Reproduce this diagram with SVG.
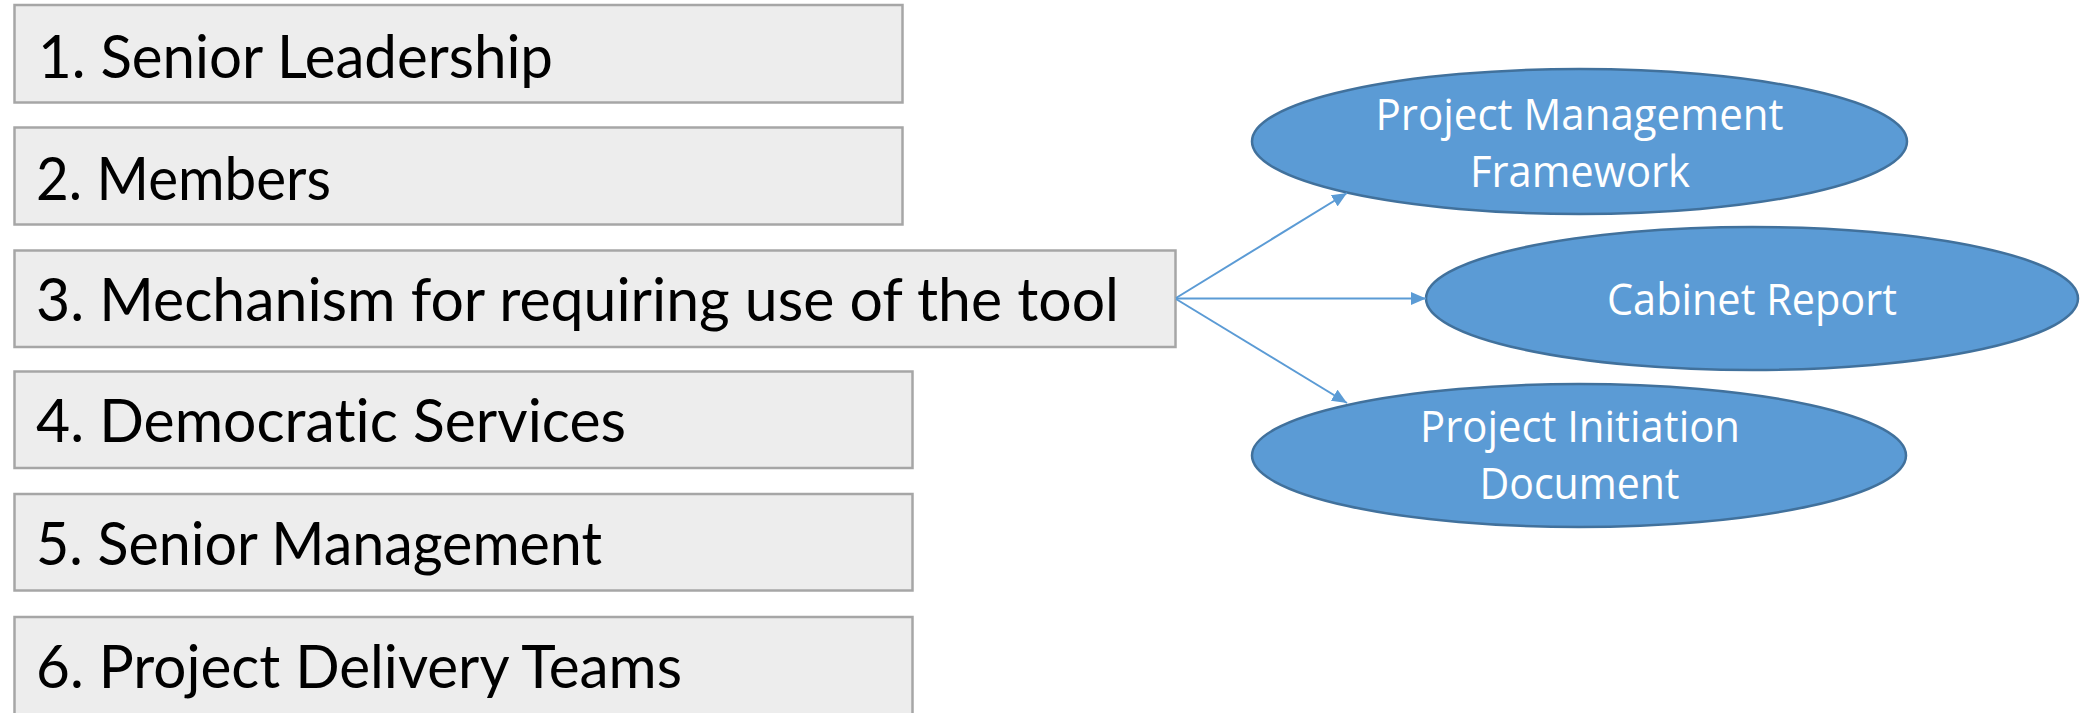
<svg xmlns="http://www.w3.org/2000/svg" width="2080" height="713" viewBox="0 0 2080 713">
<defs>
<style>
.box{fill:#EDEDED;stroke:#A6A6A6;stroke-width:2.5}
.lbl{font-family:Lato,"Noto Sans",sans-serif;font-size:60px;fill:#000;font-variant-ligatures:none}
.ell{fill:#5B9BD5;stroke:#41719C;stroke-width:2.5}
.etx{font-family:"Open Sans","Noto Sans",sans-serif;font-size:43px;fill:#fff;text-anchor:middle}
.con{stroke:#5B9BD5;stroke-width:2;fill:none}
</style>
<marker id="arr" markerUnits="userSpaceOnUse" markerWidth="15" markerHeight="13" viewBox="0 0 15 13" refX="15" refY="6.5" orient="auto">
<path d="M0,0 L15,6.5 L0,13 z" fill="#5B9BD5"/>
</marker>
</defs>
<rect width="2080" height="713" fill="#fff"/>
<g id="n1"><rect class="box" x="14.5" y="5" width="888" height="97.5"/><text class="lbl" x="38" y="77.5" textLength="515" lengthAdjust="spacingAndGlyphs">1. Senior Leadership</text></g>
<g id="n2"><rect class="box" x="14.5" y="127.5" width="888" height="97"/><text class="lbl" x="36" y="199.5" textLength="295" lengthAdjust="spacingAndGlyphs">2. Members</text></g>
<g id="n3"><rect class="box" x="14.5" y="250.5" width="1161" height="96.5"/><text class="lbl" x="36" y="321" textLength="1083" lengthAdjust="spacingAndGlyphs">3. Mechanism for requiring use of the tool</text></g>
<g id="n4"><rect class="box" x="14.5" y="371.5" width="898" height="96.5"/><text class="lbl" x="36" y="442" textLength="590" lengthAdjust="spacingAndGlyphs">4. Democratic Services</text></g>
<g id="n5"><rect class="box" x="14.5" y="494" width="898" height="96.5"/><text class="lbl" x="36" y="565" textLength="566" lengthAdjust="spacingAndGlyphs">5. Senior Management</text></g>
<g id="n6"><rect class="box" x="14.5" y="617" width="898" height="110"/><text class="lbl" x="36" y="688" textLength="646" lengthAdjust="spacingAndGlyphs">6. Project Delivery Teams</text></g>
<g id="e1"><ellipse class="ell" cx="1579.5" cy="141.5" rx="327.5" ry="72.5"/><text class="etx" x="1579.5" y="130" textLength="408" lengthAdjust="spacingAndGlyphs">Project Management</text><text class="etx" x="1580" y="186.5" textLength="220" lengthAdjust="spacingAndGlyphs">Framework</text></g>
<g id="e2"><ellipse class="ell" cx="1752" cy="298.5" rx="326" ry="71.5"/><text class="etx" x="1752" y="315" textLength="290" lengthAdjust="spacingAndGlyphs">Cabinet Report</text></g>
<g id="e3"><ellipse class="ell" cx="1579" cy="455.5" rx="327" ry="71.5"/><text class="etx" x="1580" y="442" textLength="320" lengthAdjust="spacingAndGlyphs">Project Initiation</text><text class="etx" x="1579.5" y="499" textLength="200" lengthAdjust="spacingAndGlyphs">Document</text></g>
<g id="connectors">
<line class="con" x1="1176" y1="298" x2="1347" y2="193" marker-end="url(#arr)"/>
<line class="con" x1="1176" y1="298.5" x2="1426" y2="298.5" marker-end="url(#arr)"/>
<line class="con" x1="1176" y1="299" x2="1347" y2="403" marker-end="url(#arr)"/>
</g>
</svg>
